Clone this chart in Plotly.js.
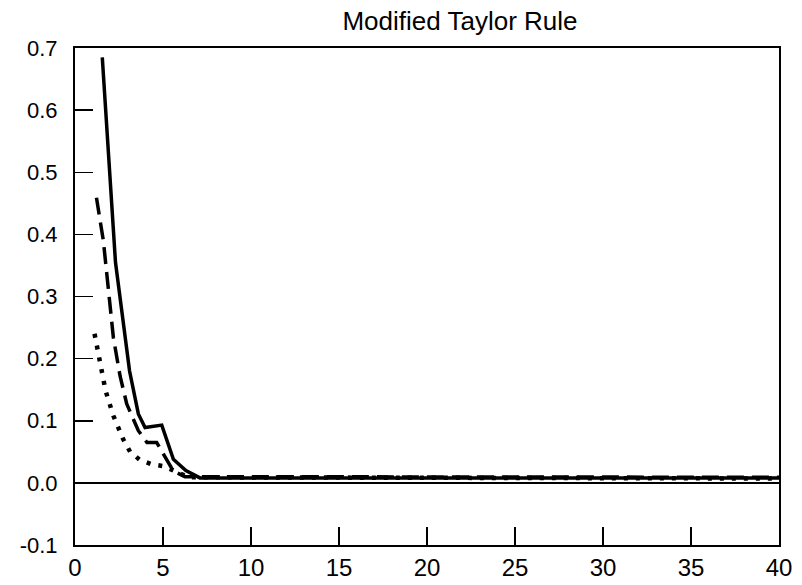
<!DOCTYPE html>
<html>
<head>
<meta charset="utf-8">
<script src="https://cdn.plot.ly/plotly-3.0.1.min.js"></script>
<style>html,body{margin:0;padding:0;background:#fff;} #chart{width:802px;height:585px;}</style>
</head>
<body>
<div id="chart"></div>
<script>
// Solid line
var solidX = [1.55, 2.3, 3.1, 3.6, 3.98, 4.93, 5.59, 6.3, 7.1, 40];
var solidY = [0.685, 0.355, 0.18, 0.111, 0.089, 0.093, 0.038, 0.02, 0.008, 0.008];
// Dashed line
var dashX = [1.22, 1.61, 2.18, 2.56, 2.94, 3.6, 4.09, 4.64, 5.59, 6.25, 40];
var dashY = [0.459, 0.39, 0.234, 0.172, 0.127, 0.084, 0.065, 0.065, 0.019, 0.01, 0.009];
// Dotted line
var dotX = [1.11, 1.42, 1.74, 2.18, 2.74, 3.13, 3.69, 4.36, 5.02, 5.68, 6.44, 40];
var dotY = [0.24, 0.192, 0.148, 0.108, 0.07, 0.05, 0.037, 0.03, 0.027, 0.019, 0.009, 0.007];

var xTicks = [0, 5, 10, 15, 20, 25, 30, 35, 40];
var yTicks = [-0.1, 0.0, 0.1, 0.2, 0.3, 0.4, 0.5, 0.6, 0.7];

var traces = [
  {x: dotX, y: dotY, mode: 'lines', line: {color: '#000', width: 4.5, dash: '4px,8px'}},
  {x: dashX, y: dashY, mode: 'lines', line: {color: '#000', width: 3.5, dash: '17px,8px'}},
  {x: solidX, y: solidY, mode: 'lines', line: {color: '#000', width: 3.5}}
];

var layout = {
  width: 802, height: 585,
  margin: {l: 75, r: 23, t: 48, b: 40, pad: 0},
  paper_bgcolor: '#fff', plot_bgcolor: '#fff',
  showlegend: false,
  font: {family: 'Liberation Sans, Arial, sans-serif', color: '#000'},
  title: {text: 'Modified Taylor Rule', x: 460/802, xanchor: 'center', xref: 'container',
          y: 1 - 21/585, yanchor: 'middle', yref: 'container',
          font: {size: 26, color: '#000', family: 'Liberation Sans, Arial, sans-serif'}},
  xaxis: {
    range: [0, 40], tickvals: xTicks, ticktext: xTicks.map(String),
    ticks: 'inside', ticklen: 18, tickwidth: 1.5, tickcolor: '#000',
    showline: true, linecolor: '#000', linewidth: 2, mirror: true,
    showgrid: false, zeroline: false,
    tickfont: {size: 24, color: '#000'}, ticklabelstandoff: 0
  },
  yaxis: {
    range: [-0.1, 0.7], tickvals: yTicks, ticktext: yTicks.map(function(v){return v.toFixed(1);}),
    ticks: 'inside', ticklen: 18, tickwidth: 1.5, tickcolor: '#000',
    showline: true, linecolor: '#000', linewidth: 2, mirror: true,
    showgrid: false, zeroline: true, zerolinecolor: '#000', zerolinewidth: 1.5,
    tickfont: {size: 22, color: '#000'}, ticklabelstandoff: 11
  }
};

Plotly.newPlot('chart', traces, layout, {displayModeBar: false, staticPlot: true});
</script>
</body>
</html>
